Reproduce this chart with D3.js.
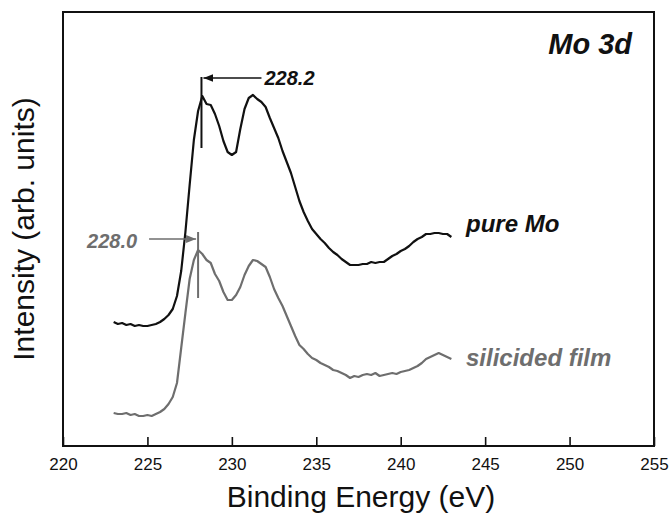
<!DOCTYPE html>
<html>
<head>
<meta charset="utf-8">
<script src="https://cdn.jsdelivr.net/npm/d3@7"></script>
<style>
  body { margin: 0; background: #fff; }
  svg { font-family: "Liberation Sans", Arial, sans-serif; }
</style>
</head>
<body>
<div id="chart"></div>
<script>
// binding energy grid (eV), one point every 0.25 eV
var energy = d3.range(0, 81).map(function(i) { return 223 + i * 0.25; });

// pure Mo spectrum (arb. units, includes vertical offset)
var pureMo = [124, 122, 123, 121, 122, 120, 121, 120, 120, 121,
    122, 124, 127, 131, 137, 150, 175, 214, 261, 306,
    335, 350, 342, 341, 332, 320, 305, 294, 291, 294,
    317, 337, 348, 351, 347, 344, 339, 328, 318, 308,
    295, 284, 273, 259, 245, 234, 225, 217, 212, 207,
    203, 198, 194, 191, 187, 184, 181, 181, 181, 182,
    182, 184, 183, 184, 184, 187, 190, 192, 195, 197,
    200, 204, 207, 209, 212, 212, 213, 213, 212, 212, 209];

// silicided film spectrum
var silicided = [33, 32, 32, 33, 31, 32, 30, 30, 31, 30,
    32, 34, 37, 42, 49, 63, 98, 133, 167, 186,
    196, 192, 186, 183, 172, 165, 154, 146, 146, 151,
    159, 171, 180, 186, 185, 182, 179, 169, 157, 148,
    140, 130, 120, 110, 101, 97, 92, 88, 86, 83,
    81, 79, 76, 75, 73, 71, 68, 70, 69, 71,
    72, 71, 73, 70, 71, 72, 73, 72, 74, 75,
    76, 78, 80, 83, 87, 89, 91, 93, 91, 89, 87];

var xTicks = [220, 225, 230, 235, 240, 245, 250, 255];

// peak markers: energy, marker top, marker bottom, label
var pureMark = { e: 228.2, top: 369, bottom: 298, label: "228.2" };
var silMark = { e: 228.0, top: 214, bottom: 148, label: "228.0" };

var W = 671, H = 516;
var margin = { left: 63, right: 17, top: 12, bottom: 70 };
var w = W - margin.left - margin.right;
var h = H - margin.top - margin.bottom;

var svg = d3.select("#chart").append("svg")
    .attr("width", W)
    .attr("height", H);

var g = svg.append("g")
    .attr("transform", "translate(" + margin.left + "," + margin.top + ")");

var x = d3.scaleLinear().domain([220, 255]).range([0, w]);
var y = d3.scaleLinear().domain([0, 434]).range([h, 0]);

var black = "#111";
var grey = "#6e6e6e";

// x axis with inward ticks
var xAxis = g.append("g")
    .attr("transform", "translate(0," + h + ")")
    .call(d3.axisBottom(x).tickValues(xTicks).tickSizeInner(-9).tickSizeOuter(0).tickPadding(12));
xAxis.select(".domain").remove();
xAxis.selectAll(".tick line").attr("stroke", black).attr("stroke-width", 1.6);
xAxis.selectAll(".tick text")
    .attr("fill", black)
    .style("font-size", "17px")
    .style("font-family", "'Liberation Sans', Arial, sans-serif");

// frame
g.append("rect")
    .attr("width", w)
    .attr("height", h)
    .attr("fill", "none")
    .attr("stroke", black)
    .attr("stroke-width", 2);

// spectra
var line = d3.line()
    .x(function(d) { return x(d[0]); })
    .y(function(d) { return y(d[1]); });

g.append("path")
    .datum(energy.map(function(e, i) { return [e, silicided[i]]; }))
    .attr("d", line)
    .attr("fill", "none")
    .attr("stroke", grey)
    .attr("stroke-width", 2.2)
    .attr("stroke-linejoin", "round");

g.append("path")
    .datum(energy.map(function(e, i) { return [e, pureMo[i]]; }))
    .attr("d", line)
    .attr("fill", "none")
    .attr("stroke", black)
    .attr("stroke-width", 2.2)
    .attr("stroke-linejoin", "round");

// arrow heads
var defs = svg.append("defs");
function arrowHead(id, color) {
    defs.append("marker")
        .attr("id", id)
        .attr("viewBox", "0 0 10 8")
        .attr("refX", 10)
        .attr("refY", 4)
        .attr("markerWidth", 10)
        .attr("markerHeight", 8)
        .attr("markerUnits", "userSpaceOnUse")
        .attr("orient", "auto")
        .append("path")
        .attr("d", "M0,0L10,4L0,8Z")
        .attr("fill", color);
}
arrowHead("ahBlack", black);
arrowHead("ahGrey", grey);

// pure Mo marker (arrow comes from the right)
g.append("line")
    .attr("x1", x(pureMark.e)).attr("x2", x(pureMark.e))
    .attr("y1", y(pureMark.top)).attr("y2", y(pureMark.bottom))
    .attr("stroke", black).attr("stroke-width", 2);
g.append("line")
    .attr("x1", x(pureMark.e) + 60).attr("x2", x(pureMark.e) + 2)
    .attr("y1", y(pureMark.top) + 1).attr("y2", y(pureMark.top) + 1)
    .attr("stroke", black).attr("stroke-width", 1.6)
    .attr("marker-end", "url(#ahBlack)");
g.append("text")
    .attr("x", x(pureMark.e) + 63)
    .attr("y", y(pureMark.top) + 8)
    .attr("fill", black)
    .style("font-size", "20px")
    .style("font-weight", "bold")
    .style("font-style", "italic")
    .text(pureMark.label);

// silicided marker (arrow comes from the left)
g.append("line")
    .attr("x1", x(silMark.e)).attr("x2", x(silMark.e))
    .attr("y1", y(silMark.top)).attr("y2", y(silMark.bottom))
    .attr("stroke", grey).attr("stroke-width", 2);
g.append("line")
    .attr("x1", x(silMark.e) - 49).attr("x2", x(silMark.e) - 2)
    .attr("y1", y(silMark.top) + 7).attr("y2", y(silMark.top) + 7)
    .attr("stroke", grey).attr("stroke-width", 1.6)
    .attr("marker-end", "url(#ahGrey)");
g.append("text")
    .attr("x", x(silMark.e) - 61)
    .attr("y", y(silMark.top) + 16)
    .attr("text-anchor", "end")
    .attr("fill", grey)
    .style("font-size", "20px")
    .style("font-weight", "bold")
    .style("font-style", "italic")
    .text(silMark.label);

// series labels
g.append("text")
    .attr("x", 403).attr("y", 220)
    .attr("fill", black)
    .style("font-size", "24px").style("font-weight", "bold").style("font-style", "italic")
    .text("pure Mo");
g.append("text")
    .attr("x", 403).attr("y", 354)
    .attr("fill", grey)
    .style("font-size", "24px").style("font-weight", "bold").style("font-style", "italic")
    .text("silicided film");

// panel label
g.append("text")
    .attr("x", w - 22).attr("y", 42)
    .attr("text-anchor", "end")
    .attr("fill", black)
    .style("font-size", "29px").style("font-weight", "bold").style("font-style", "italic")
    .text("Mo 3d");

// axis titles
svg.append("text")
    .attr("x", 361).attr("y", 507)
    .attr("text-anchor", "middle")
    .attr("fill", black)
    .style("font-size", "30px")
    .text("Binding Energy (eV)");

svg.append("text")
    .attr("transform", "translate(34,229) rotate(-90)")
    .attr("text-anchor", "middle")
    .attr("fill", black)
    .style("font-size", "30px")
    .text("Intensity (arb. units)");
</script>
</body>
</html>
